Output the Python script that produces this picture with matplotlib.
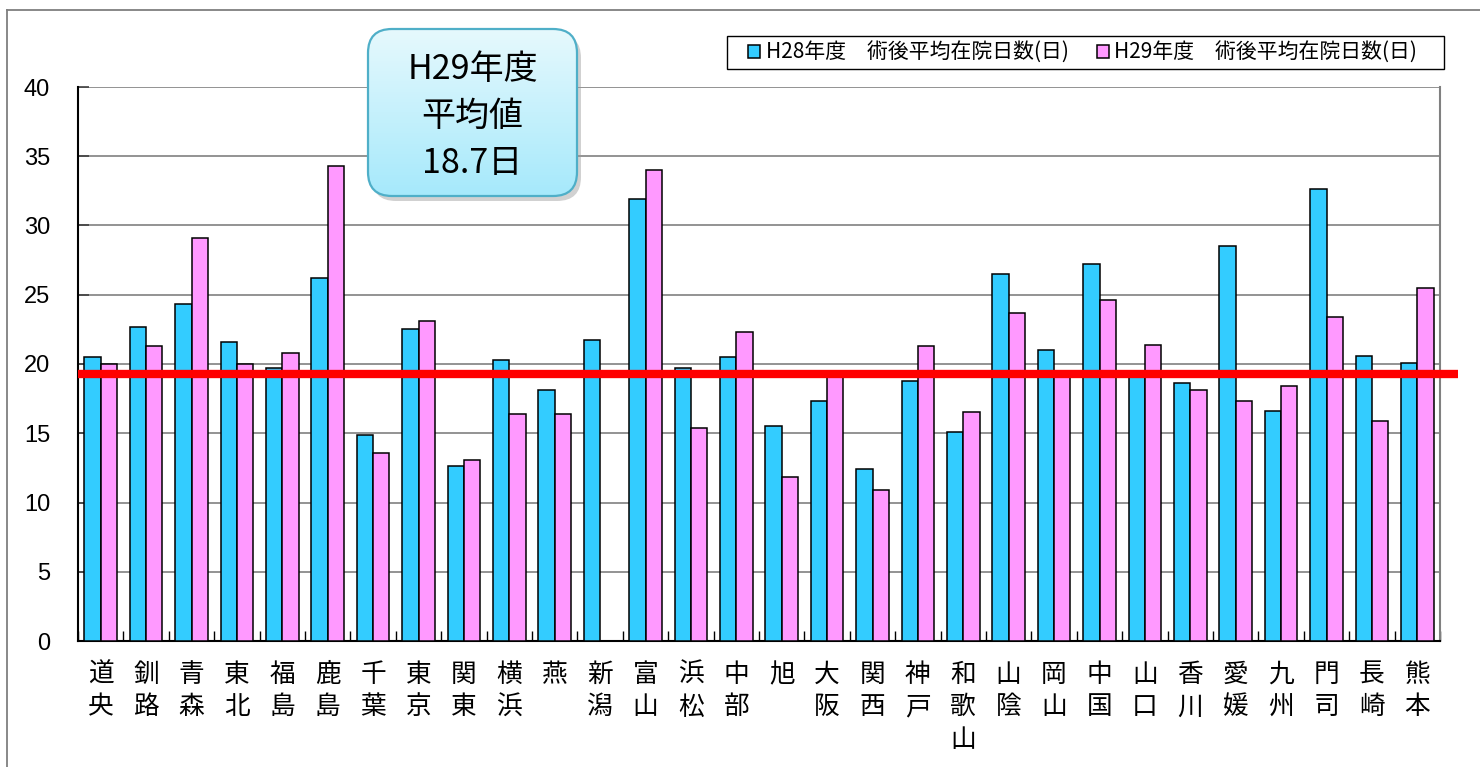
import numpy as np
import matplotlib
matplotlib.use("Agg")
import matplotlib.pyplot as plt
from matplotlib.patches import FancyBboxPatch, Rectangle
from matplotlib.colors import LinearSegmentedColormap

plt.rcParams['font.family'] = ['Noto Sans CJK JP', 'DejaVu Sans']

# data
offices = ["道央", "釧路", "青森", "東北", "福島", "鹿島", "千葉", "東京", "関東", "横浜",
           "燕", "新潟", "富山", "浜松", "中部", "旭", "大阪", "関西", "神戸", "和歌山",
           "山陰", "岡山", "中国", "山口", "香川", "愛媛", "九州", "門司", "長崎", "熊本"]
h28_days = [20.5, 22.7, 24.3, 21.6, 19.7, 26.2, 14.9, 22.5, 12.6, 20.3,
            18.1, 21.7, 31.9, 19.7, 20.5, 15.5, 17.3, 12.4, 18.8, 15.1,
            26.5, 21.0, 27.2, 19.3, 18.6, 28.5, 16.6, 32.6, 20.6, 20.1]
h29_days = [20.0, 21.3, 29.1, 20.0, 20.8, 34.3, 13.6, 23.1, 13.1, 16.4,
            16.4, np.nan, 34.0, 15.4, 22.3, 11.85, 19.3, 10.9, 21.3, 16.5,
            23.7, 19.3, 24.6, 21.4, 18.1, 17.3, 18.4, 23.4, 15.9, 25.5]
avg_line_value = 19.3
avg_label = "H29年度\n平均値\n18.7日"
legend_labels = ["H28年度\u3000術後平均在院日数(日)", "H29年度\u3000術後平均在院日数(日)"]
y_ticks = [0, 5, 10, 15, 20, 25, 30, 35, 40]

W, H = 1480, 767
fig = plt.figure(figsize=(W / 100, H / 100), dpi=100)
ax = fig.add_axes([78 / W, 1 - 641 / H, (1440 - 78) / W, (641 - 87) / H])

x = np.arange(len(offices))
bw = 0.36
b1 = ax.bar(x - bw / 2, h28_days, bw, color="#33CCFF", edgecolor="black", linewidth=1.1, zorder=3)
b2 = ax.bar(x + bw / 2, h29_days, bw, color="#FF99FF", edgecolor="black", linewidth=1.1, zorder=3)

# red average line, runs a bit past the right edge
ax.plot([0, 1.0132], [avg_line_value, avg_line_value], color="#FF0000", linewidth=6,
        transform=ax.get_yaxis_transform(), clip_on=False, zorder=4, solid_capstyle="butt")

ax.set_xlim(-0.5, len(offices) - 0.5)
ax.set_ylim(0, 40)
ax.set_yticks(y_ticks)
ax.set_yticklabels([str(v) for v in y_ticks], family=["Liberation Sans", "DejaVu Sans"], fontsize=17)
ax.tick_params(axis="y", direction="in", length=8, width=1.2, color="#404040", pad=20)
ax.yaxis.grid(True, color="#808080", linewidth=1.2, zorder=0)
ax.set_axisbelow(True)

ax.set_xticks(x)
ax.set_xticklabels(["\n".join(name) for name in offices], fontsize=18.5, linespacing=1.33, va="top")
ax.tick_params(axis="x", which="major", length=0, pad=15)
ax.set_xticks(np.arange(len(offices) + 1) - 0.5, minor=True)
ax.tick_params(axis="x", which="minor", direction="in", length=7, width=1, color="black")

ax.spines["top"].set_visible(False)
ax.spines["right"].set_color("#808080")
ax.spines["right"].set_linewidth(1.5)
ax.spines["left"].set_linewidth(1.5)
ax.spines["bottom"].set_linewidth(1.5)

leg = ax.legend([b1, b2], legend_labels, ncol=2, loc="center left",
                bbox_to_anchor=(748 / W, 1 - 53 / H), bbox_transform=fig.transFigure,
                borderaxespad=0, borderpad=0, fontsize=15, frameon=False,
                handlelength=0.6, handleheight=0.6, handletextpad=0.25, columnspacing=1.35)
leg.set_zorder(10)

# overlay in pixel coordinates for the callout box, legend frame and outer frame
ov = fig.add_axes([0, 0, 1, 1], zorder=20)
ov.set_xlim(0, W)
ov.set_ylim(H, 0)
ov.axis("off")
ov.patch.set_alpha(0)

ov.plot([7, W], [10, 10], color="#7F7F7F", linewidth=1.3)
ov.plot([7, 7], [10, H], color="#7F7F7F", linewidth=1.3)
ov.add_patch(Rectangle((727, 36), 717, 33, facecolor="none", edgecolor="black", linewidth=1.0))

bx, by, bwid, bht = 368, 29, 209, 167
shadow = FancyBboxPatch((bx + 4, by + 5), bwid, bht, boxstyle="round,pad=0,rounding_size=24",
                        facecolor="#999999", edgecolor="none", alpha=0.45)
ov.add_patch(shadow)
box = FancyBboxPatch((bx, by), bwid, bht, boxstyle="round,pad=0,rounding_size=24",
                     facecolor="none", edgecolor="#4FAFC8", linewidth=1.6, zorder=3)
ov.add_patch(box)
cmap = LinearSegmentedColormap.from_list("callout", ["#E6F9FD", "#A6E9FB"])
grad = ov.imshow(np.linspace(0, 1, 200).reshape(-1, 1), cmap=cmap, aspect="auto",
                 extent=(bx, bx + bwid, by + bht, by), origin="upper", zorder=2)
grad.set_clip_path(box)
ov.set_xlim(0, W)
ov.set_ylim(H, 0)
ov.text(bx + bwid / 2, by + bht / 2 + 4, avg_label, ha="center", va="center",
        fontsize=24.5, linespacing=1.43, zorder=4)

fig.savefig("out.png", dpi=100)
